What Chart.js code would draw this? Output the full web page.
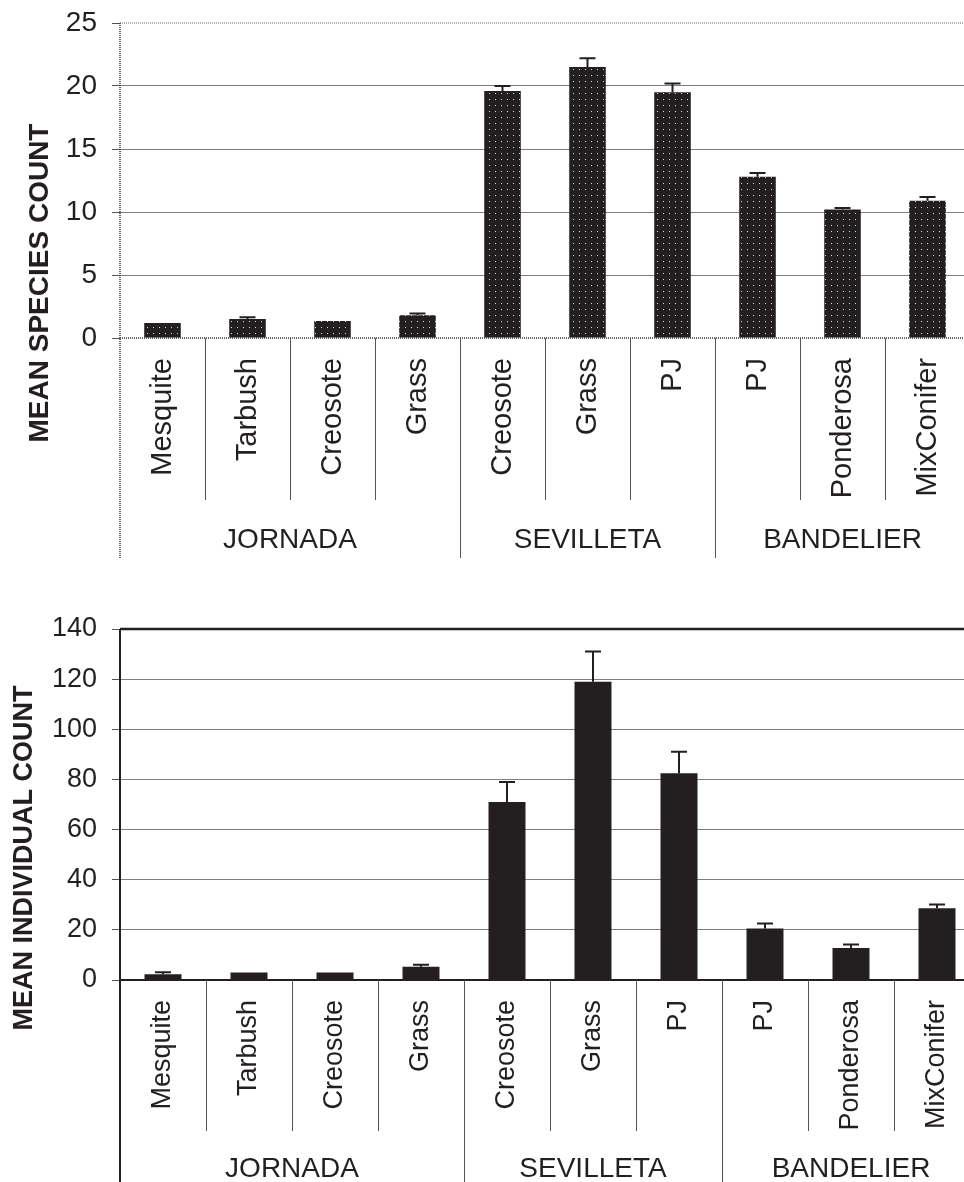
<!DOCTYPE html>
<html>
<head>
<meta charset="utf-8">
<script src="https://cdn.jsdelivr.net/npm/chart.js@4.4.1/dist/chart.umd.min.js"></script>
<style>
    html, body { margin: 0; padding: 0; background: #ffffff; overflow: hidden; }
    #wrap { position: relative; width: 964px; height: 1182px; overflow: hidden; }
    canvas { position: absolute; left: 0; }
    #speciesChart { top: 0; }
    #individualChart { top: 580px; }
</style>
</head>
<body>
<div id="wrap">
    <canvas id="speciesChart" width="980" height="580"></canvas>
    <canvas id="individualChart" width="980" height="602"></canvas>
</div>
<script>
// Data
const habitats = ['Mesquite', 'Tarbush', 'Creosote', 'Grass', 'Creosote', 'Grass', 'PJ', 'PJ', 'Ponderosa', 'MixConifer'];
const sites = ['JORNADA', 'SEVILLETA', 'BANDELIER'];
const siteSizes = [4, 3, 3];

const speciesMean = [1.2, 1.5, 1.35, 1.8, 19.6, 21.5, 19.5, 12.8, 10.2, 10.9];
const speciesErr = [0.05, 0.15, 0.05, 0.15, 0.4, 0.7, 0.7, 0.3, 0.12, 0.3];
const speciesTicks = [0, 5, 10, 15, 20, 25];

const individualMean = [2.3, 3.0, 3.0, 5.3, 71, 119, 82.5, 20.5, 12.8, 28.6];
const individualErr = [0.8, 0.2, 0.2, 0.8, 8, 12, 8.5, 2, 1.4, 1.5];
const individualTicks = [0, 20, 40, 60, 80, 100, 120, 140];

const INK = '#231f20';
const FONT = "'Liberation Sans', Arial, sans-serif";

// Dotted fill for the upper chart
function dotPattern() {
    const c = document.createElement('canvas');
    c.width = 6;
    c.height = 6;
    const g = c.getContext('2d');
    g.fillStyle = INK;
    g.fillRect(0, 0, 6, 6);
    g.fillStyle = '#dcdcdc';
    g.fillRect(3, 3, 1, 1);
    return g.createPattern(c, 'repeat');
}

// Upward error bars with caps
const errorBars = {
    id: 'errorBars',
    afterDatasetsDraw(chart, args, opts) {
        const ctx = chart.ctx;
        const y = chart.scales.y;
        const meta = chart.getDatasetMeta(0);
        ctx.save();
        ctx.strokeStyle = INK;
        ctx.lineWidth = 2;
        meta.data.forEach((bar, i) => {
            const top = y.getPixelForValue(opts.mean[i] + opts.err[i]);
            if (bar.y - top < 1) return;
            ctx.beginPath();
            ctx.moveTo(bar.x, bar.y);
            ctx.lineTo(bar.x, top);
            ctx.moveTo(bar.x - 8, top);
            ctx.lineTo(bar.x + 8, top);
            ctx.stroke();
        });
        ctx.restore();
    }
};

// Axis lines, category/site labels and the y title
const frame = {
    id: 'frame',
    beforeDatasetsDraw(chart, args, opts) {
        const ctx = chart.ctx;
        const a = chart.chartArea;
        const y = chart.scales.y;
        const yTop = y.getPixelForValue(opts.max);
        ctx.save();
        if (opts.style === 'dotted') {
            ctx.setLineDash([1, 1]);
            ctx.strokeStyle = '#9a9a9a';
            ctx.lineWidth = 1.5;
        } else {
            ctx.strokeStyle = INK;
            ctx.lineWidth = 2.5;
        }
        ctx.beginPath();
        ctx.moveTo(a.left, yTop);
        ctx.lineTo(a.right, yTop);
        ctx.stroke();
        ctx.restore();
    },
    afterDraw(chart, args, opts) {
        const ctx = chart.ctx;
        const a = chart.chartArea;
        const x = chart.scales.x;
        const base = chart.scales.y.getPixelForValue(0);
        ctx.save();

        // y axis + baseline
        if (opts.style === 'dotted') {
            ctx.setLineDash([1, 1]);
            ctx.strokeStyle = '#333';
            ctx.lineWidth = 1.5;
        } else {
            ctx.strokeStyle = INK;
            ctx.lineWidth = 2;
        }
        ctx.beginPath();
        ctx.moveTo(a.left, a.top);
        ctx.lineTo(a.left, opts.groupEnd);
        ctx.moveTo(a.left, base);
        ctx.lineTo(a.right, base);
        ctx.stroke();
        ctx.setLineDash([]);

        // separators under the axis
        const bounds = [0];
        siteSizes.forEach(n => bounds.push(bounds[bounds.length - 1] + n));
        ctx.strokeStyle = '#555';
        ctx.lineWidth = 1;
        for (let k = 1; k <= habitats.length; k++) {
            const px = Math.round(x.getPixelForValue(k - 0.5)) + 0.5;
            ctx.beginPath();
            ctx.moveTo(px, base);
            ctx.lineTo(px, bounds.includes(k) ? opts.groupEnd : opts.tickEnd);
            ctx.stroke();
        }

        // habitat labels, rotated
        ctx.fillStyle = INK;
        ctx.font = opts.labelSize + 'px ' + FONT;
        ctx.textAlign = 'right';
        ctx.textBaseline = 'middle';
        habitats.forEach((lab, i) => {
            ctx.save();
            ctx.translate(x.getPixelForValue(i), opts.labelTop);
            ctx.rotate(-Math.PI / 2);
            ctx.fillText(lab, 0, 0);
            ctx.restore();
        });

        // site labels
        ctx.font = '28px ' + FONT;
        ctx.textAlign = 'center';
        sites.forEach((s, j) => {
            const mid = (bounds[j] + bounds[j + 1] - 1) / 2;
            ctx.fillText(s, x.getPixelForValue(mid), opts.siteY);
        });

        // y title
        ctx.font = 'bold ' + opts.titleSize + 'px ' + FONT;
        ctx.save();
        ctx.translate(opts.titleX, opts.titleY);
        ctx.rotate(-Math.PI / 2);
        ctx.fillText(opts.title, 0, 0);
        ctx.restore();

        ctx.restore();
    }
};

function makeChart(canvas, cfg) {
    return new Chart(canvas.getContext('2d'), {
        type: 'bar',
        data: {
            labels: habitats,
            datasets: [{
                data: cfg.mean,
                backgroundColor: cfg.fill,
                borderWidth: 0,
                categoryPercentage: 1,
                barPercentage: 0.43
            }]
        },
        options: {
            responsive: false,
            animation: false,
            devicePixelRatio: 1,
            layout: { padding: cfg.padding },
            plugins: {
                legend: { display: false },
                tooltip: { enabled: false },
                errorBars: { mean: cfg.mean, err: cfg.err },
                frame: cfg.frame
            },
            scales: {
                x: { display: false },
                y: {
                    min: 0,
                    max: cfg.ticks[cfg.ticks.length - 1],
                    afterFit: (s) => {
                        s.width = 120;
                        s.paddingTop = 0;
                        s.paddingBottom = 0;
                    },
                    afterBuildTicks: (s) => { s.ticks = cfg.ticks.map(v => ({ value: v })); },
                    border: { display: false },
                    grid: {
                        color: (c) => (c.tick && (c.tick.value === 0 || c.tick.value === cfg.frame.max)) ? 'rgba(0,0,0,0)' : '#7e7e7e',
                        lineWidth: 1,
                        tickLength: 8,
                        tickColor: '#555'
                    },
                    ticks: {
                        padding: 15,
                        color: INK,
                        font: { family: FONT, size: cfg.tickSize }
                    }
                }
            }
        },
        plugins: [frame, errorBars]
    });
}

makeChart(document.getElementById('speciesChart'), {
    mean: speciesMean,
    err: speciesErr,
    ticks: speciesTicks,
    fill: dotPattern(),
    tickSize: 28,
    padding: { top: 23, bottom: 242, left: 0, right: 10 },
    frame: {
        style: 'dotted', max: 25,
        tickEnd: 500, groupEnd: 558, labelTop: 358, labelSize: 29, siteY: 540,
        title: 'MEAN SPECIES COUNT', titleX: 40, titleY: 283, titleSize: 28
    }
});

makeChart(document.getElementById('individualChart'), {
    mean: individualMean,
    err: individualErr,
    ticks: individualTicks,
    fill: INK,
    tickSize: 27,
    padding: { top: 49, bottom: 202, left: 0, right: 0 },
    frame: {
        style: 'solid', max: 140,
        tickEnd: 551, groupEnd: 602, labelTop: 420, labelSize: 27, siteY: 589,
        title: 'MEAN INDIVIDUAL COUNT', titleX: 25, titleY: 278, titleSize: 27
    }
});
</script>
</body>
</html>
